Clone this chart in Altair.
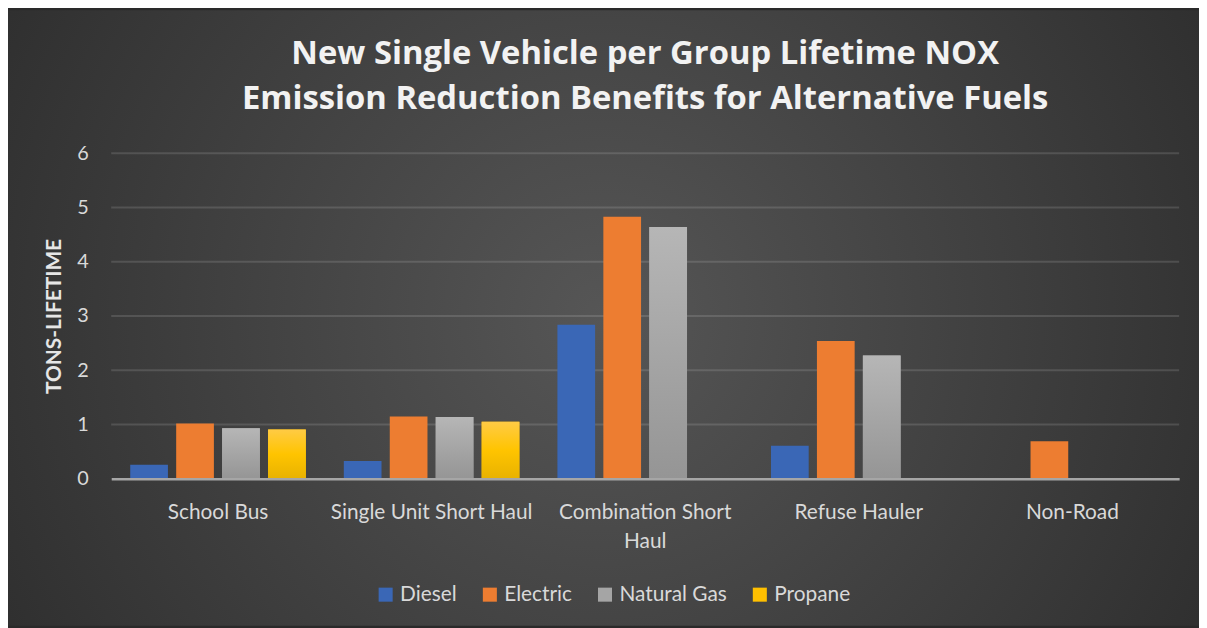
import altair as alt
import pandas as pd

categories = ["School Bus", "Single Unit Short Haul", "Combination Short Haul", "Refuse Hauler", "Non-Road"]
fuels = ["Diesel", "Electric", "Natural Gas", "Propane"]
diesel = [0.26, 0.33, 2.84, 0.61, None]
electric = [1.02, 1.15, 4.83, 2.54, 0.69]
natural_gas = [0.93, 1.14, 4.64, 2.27, None]
propane = [0.91, 1.05, None, None, None]
y_ticks = [0, 1, 2, 3, 4, 5, 6]

rows = []
for series_name, vals in zip(fuels, [diesel, electric, natural_gas, propane]):
    for c, v in zip(categories, vals):
        if v is not None:
            rows.append({"Category": c, "Fuel": series_name, "Value": v})
df = pd.DataFrame(rows)

W, H = 1076, 328
PAD = {"left": 104, "top": 144, "right": 20, "bottom": 148}
FONT = "Lato"
LABEL_COLOR = "#d9d9d9"

x_enc = alt.X("Category:N", sort=categories, title=None,
              scale=alt.Scale(paddingInner=0, paddingOuter=0),
              axis=alt.Axis(labelAngle=0, ticks=False, grid=False, zindex=1,
                            domainColor="#a6a6a6", domainWidth=2.5,
                            labelColor=LABEL_COLOR, labelFont=FONT, labelFontSize=21,
                            labelPadding=23, labelLineHeight=29, labelLimit=400,
                            labelExpr="datum.label == 'Combination Short Haul' ? ['Combination Short', 'Haul'] : datum.label"))
xoff = alt.XOffset("Fuel:N", sort=fuels,
                   scale=alt.Scale(domain=fuels, paddingInner=0.18, paddingOuter=0.414))
y_scale = alt.Scale(domain=[0, 6], nice=False)
y_enc = alt.Y("Value:Q", scale=y_scale, title="TONS-LIFETIME",
              axis=alt.Axis(values=y_ticks, format="d", grid=False, domain=False, ticks=False, zindex=1,
                            labelColor=LABEL_COLOR, labelFont=FONT, labelFontSize=20,
                            labelPadding=23, titleColor="#e6e6e6", titleFont=FONT,
                            titleFontSize=21, titleFontWeight="bold", titlePadding=13))

bg = alt.Chart(pd.DataFrame({"a": [0]})).mark_rect(
    fill={"gradient": "radial", "x1": 0.5, "y1": 0.5, "r1": 0, "x2": 0.5, "y2": 0.5, "r2": 0.75,
          "stops": [{"offset": 0, "color": "#565656"}, {"offset": 1, "color": "#232323"}]},
    strokeWidth=0).encode(
    x=alt.value(-PAD["left"]), x2=alt.value(W + PAD["right"]),
    y=alt.value(-PAD["top"]), y2=alt.value(H + PAD["bottom"]))

grid = alt.Chart(pd.DataFrame({"v": y_ticks[1:]})).mark_rule(
    color="#ffffff", opacity=0.13, strokeWidth=2).encode(
    y=alt.Y("v:Q", scale=y_scale))

bars = alt.Chart(df).mark_bar(width=38).encode(
    x=x_enc, xOffset=xoff, y=y_enc,
    color=alt.Color("Fuel:N", sort=fuels,
                    scale=alt.Scale(domain=fuels, range=["#3a67b6", "#ed7d31", "#a5a5a5", "#ffc000"]),
                    legend=alt.Legend(title=None, orient="none", direction="horizontal",
                                      legendX=266, legendY=434, columns=4,
                                      symbolType="square", symbolSize=200, symbolStrokeWidth=0,
                                      labelColor=LABEL_COLOR, labelFont=FONT, labelFontSize=21,
                                      columnPadding=22, symbolOffset=0)))

ng = alt.Chart(df).transform_filter(alt.datum.Fuel == "Natural Gas").mark_bar(
    width=38,
    fill={"gradient": "linear", "x1": 0, "y1": 0, "x2": 0, "y2": 1,
          "stops": [{"offset": 0, "color": "#b6b6b6"}, {"offset": 1, "color": "#959595"}]}).encode(
    x=alt.X("Category:N", sort=categories), xOffset=xoff, y=alt.Y("Value:Q", scale=y_scale))

pr = alt.Chart(df).transform_filter(alt.datum.Fuel == "Propane").mark_bar(
    width=38,
    fill={"gradient": "linear", "x1": 0, "y1": 0, "x2": 0, "y2": 1,
          "stops": [{"offset": 0, "color": "#ffcb45"}, {"offset": 0.5, "color": "#ffc400"},
                    {"offset": 1, "color": "#e8b200"}]}).encode(
    x=alt.X("Category:N", sort=categories), xOffset=xoff, y=alt.Y("Value:Q", scale=y_scale))

chart = alt.layer(bg, grid, bars, ng, pr).properties(
    width=W, height=H, autosize=alt.AutoSizeParams(type="none"), padding=PAD,
    background="#2a2a2a",
    title=alt.Title(["New Single Vehicle per Group Lifetime NOX",
                     "Emission Reduction Benefits for Alternative Fuels"],
                    font="Open Sans", fontSize=33, fontWeight="bold", color="#f2f2f2",
                    lineHeight=45, anchor="middle", offset=-106)
).configure_view(stroke=None, fill=None)

chart.save("out.html", embed_options={"renderer": "svg", "actions": False})
